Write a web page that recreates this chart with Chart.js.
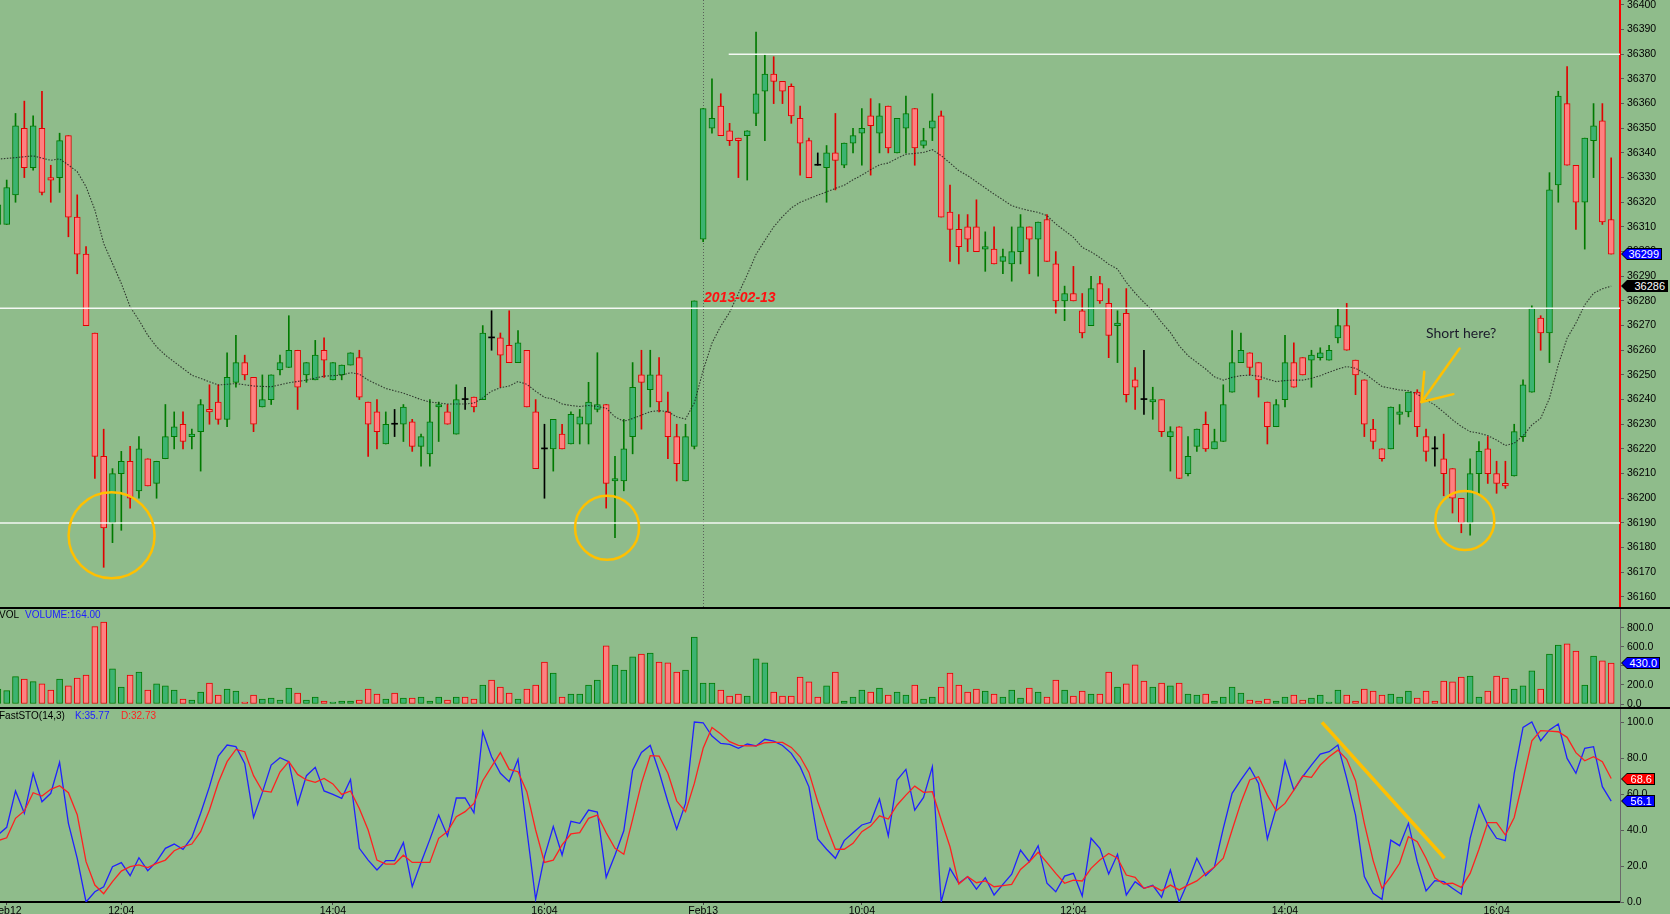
<!DOCTYPE html>
<html>
<head>
<meta charset="utf-8">
<title>Candles + VOL + FastSTO</title>
<script src="https://cdn.jsdelivr.net/npm/chart.js@4.4.1/dist/chart.umd.min.js"></script>
<style>
  html, body { margin: 0; padding: 0; background: #8fbc8b; }
  #wrap { position: relative; width: 1670px; height: 914px; overflow: hidden; background: #8fbc8b;
          font-family: 'Liberation Sans', Arial, sans-serif; }
  .pane { position: absolute; left: 0; }
  .pane canvas { display: block; }
  .sep { position: absolute; left: 0; width: 1670px; height: 2px; background: #000; }
  .hdr { position: absolute; font-size: 10px; line-height: 12px; white-space: nowrap; color: #000; }
  .note { position: absolute; white-space: nowrap; }
  .tag { position: absolute; left: 1621px; height: 12px; background: #000;
         clip-path: polygon(0 50%, 6px 0, 100% 0, 100% 100%, 6px 100%); }
  .tag div { position: absolute; left: 1px; top: 1px; right: 1px; bottom: 1px; color: #fff;
             font-size: 11px; line-height: 10px; text-align: right; padding-right: 2px;
             clip-path: polygon(0 50%, 5px 0, 100% 0, 100% 100%, 5px 100%); }
</style>
</head>
<body>
<div id="wrap">
  <div class="pane" style="top:0"><canvas id="priceCanvas" width="1670" height="608"></canvas></div>
  <div class="pane" style="top:608px"><canvas id="volCanvas" width="1670" height="100"></canvas></div>
  <div class="pane" style="top:708px"><canvas id="stoCanvas" width="1670" height="206"></canvas></div>
  <div class="sep" style="top:607px"></div>
  <div class="sep" style="top:707px"></div>
  <div class="hdr" style="top:609px;left:-1px">VOL</div>
  <div class="hdr" style="top:609px;left:25px;color:#2020ff">VOLUME:164.00</div>
  <div class="hdr" style="top:710px;left:-1px">FastSTO(14,3)</div>
  <div class="hdr" style="top:710px;left:75px;color:#2020ff">K:35.77</div>
  <div class="hdr" style="top:710px;left:121px;color:#ff2020">D:32.73</div>
</div>
<script>
// 5 minute bars, Feb12 -> Feb13 (bar 0 is cut off at the left edge)
const opens = [
  36311,36311,36323,36350,36334,36350,36330,36330,36347,36314,
  36299,36267,36217,36190,36210,36215,36203,36216,36206,36216,
  36225,36230,36225,36227,36236,36239,36232,36247,36255,36249,
  36237,36240,36252,36253,36260,36250,36248,36260,36248,36250,
  36254,36257,36239,36235,36222,36230,36230,36231,36221,36218,
  36237,36235,36226,36240,36241,36240,36265,36265,36262,36255,
  36260,36235,36220,36220,36226,36222,36230,36230,36236,36238,
  36207,36207,36225,36250,36244,36250,36235,36225,36207,36221,
  36305,36350,36359,36349,36346,36347,36356,36365,36372,36369,
  36367,36354,36345,36335,36334,36340,36335,36344,36348,36355,
  36348,36359,36340,36350,36358,36343,36350,36355,36316,36309,
  36310,36310,36301,36301,36296,36295,36300,36310,36305,36313,
  36295,36280,36283,36276,36270,36287,36279,36270,36275,36248,
  36240,36239,36240,36225,36229,36210,36221,36230,36220,36223,
  36243,36255,36259,36255,36239,36229,36240,36255,36257,36256,
  36257,36256,36265,36270,36256,36248,36228,36220,36220,36234,
  36235,36243,36225,36220,36216,36212,36200,36190,36210,36220,
  36210,36206,36209,36225,36243,36273,36267,36327,36360,36335,
  36320,36345,36353,36313
];
const highs = [
  36321,36329,36356,36361,36355,36365,36335,36348,36347,36323,
  36302,36267,36228,36212,36219,36221,36225,36216,36215,36238,
  36235,36235,36228,36240,36246,36246,36259,36266,36258,36249,
  36250,36250,36258,36274,36260,36255,36264,36265,36255,36254,
  36259,36260,36239,36240,36235,36236,36238,36232,36226,36240,
  36239,36238,36246,36245,36241,36270,36276,36267,36276,36268,
  36260,36240,36230,36232,36230,36235,36236,36247,36259,36238,
  36217,36232,36255,36260,36260,36257,36243,36230,36230,36280,
  36358,36370,36364,36352,36346,36349,36389,36380,36379,36369,
  36368,36359,36346,36340,36343,36356,36344,36350,36358,36362,
  36360,36359,36354,36363,36358,36350,36364,36357,36327,36315,
  36315,36321,36308,36310,36301,36310,36315,36310,36312,36315,
  36300,36286,36294,36283,36290,36290,36285,36276,36285,36253,
  36260,36245,36240,36229,36229,36225,36228,36235,36228,36246,
  36268,36267,36259,36255,36239,36240,36266,36263,36257,36260,
  36261,36262,36277,36279,36256,36248,36232,36220,36237,36238,
  36243,36244,36228,36225,36226,36212,36200,36216,36223,36225,
  36215,36215,36230,36248,36278,36274,36332,36365,36375,36335,
  36346,36360,36360,36338
];
const lows = [
  36310,36311,36320,36330,36333,36323,36320,36324,36306,36291,
  36270,36208,36172,36182,36187,36196,36200,36205,36200,36216,
  36220,36220,36220,36211,36230,36230,36229,36245,36248,36227,
  36237,36238,36250,36253,36236,36247,36248,36249,36248,36248,
  36254,36240,36217,36220,36222,36225,36223,36219,36213,36213,
  36223,36230,36226,36236,36235,36240,36260,36245,36255,36255,
  36237,36212,36200,36211,36220,36222,36222,36222,36235,36196,
  36184,36203,36218,36228,36237,36235,36216,36207,36207,36220,
  36304,36348,36347,36343,36330,36329,36351,36345,36360,36360,
  36352,36331,36330,36335,36320,36325,36334,36340,36335,36331,
  36340,36340,36340,36340,36335,36342,36345,36314,36296,36295,
  36300,36300,36292,36295,36291,36288,36295,36291,36290,36296,
  36275,36272,36280,36265,36270,36279,36257,36255,36239,36236,
  36234,36232,36225,36211,36208,36209,36219,36219,36220,36223,
  36243,36255,36250,36241,36222,36229,36237,36245,36250,36245,
  36256,36256,36263,36260,36242,36225,36220,36215,36220,36230,
  36233,36225,36215,36213,36201,36194,36186,36185,36202,36206,
  36202,36204,36209,36223,36243,36260,36255,36320,36335,36309,
  36301,36330,36311,36299
];
const closes = [
  36319,36326,36351,36334,36351,36324,36329,36345,36314,36299,
  36270,36217,36188,36210,36215,36200,36220,36205,36215,36225,
  36229,36223,36226,36238,36235,36232,36249,36255,36250,36230,
  36240,36250,36255,36260,36245,36255,36258,36256,36255,36254,
  36259,36241,36230,36227,36230,36230,36237,36221,36225,36231,
  36238,36230,36240,36240,36237,36267,36265,36258,36255,36263,
  36237,36212,36220,36232,36220,36234,36233,36239,36238,36206,
  36208,36220,36245,36247,36250,36239,36225,36214,36225,36280,
  36358,36354,36347,36345,36345,36349,36364,36372,36369,36365,
  36355,36344,36330,36335,36340,36337,36344,36347,36350,36351,
  36355,36342,36354,36356,36342,36345,36353,36314,36309,36302,
  36305,36300,36302,36295,36298,36300,36310,36305,36312,36296,
  36280,36283,36280,36267,36285,36280,36266,36271,36242,36245,
  36240,36240,36227,36227,36208,36217,36228,36220,36223,36238,
  36255,36260,36253,36248,36229,36238,36255,36245,36250,36258,
  36259,36260,36270,36260,36250,36230,36223,36216,36237,36235,
  36243,36229,36219,36220,36210,36200,36190,36210,36219,36210,
  36206,36205,36227,36246,36277,36267,36325,36363,36335,36320,
  36346,36351,36312,36299
];
const volumes = [
  158,140,288,263,235,211,147,263,190,274,
  305,814,863,369,179,305,337,147,211,190,
  147,53,42,126,221,95,158,137,21,95,
  53,63,42,168,116,42,74,32,21,32,
  32,42,158,105,53,116,63,63,74,32,
  74,42,74,74,53,200,253,179,116,53,
  158,200,442,326,74,105,105,200,253,611,
  410,358,495,526,537,442,432,337,358,705,
  221,221,147,84,105,84,474,432,126,84,
  84,284,232,74,190,337,32,74,147,126,
  168,95,126,95,200,53,74,179,326,200,
  126,158,137,105,74,147,63,168,126,74,
  253,147,84,137,105,105,337,179,211,411,
  242,179,221,190,221,105,95,105,32,74,
  179,116,42,32,53,32,74,95,42,63,
  95,21,147,95,32,158,137,95,105,74,
  137,63,137,32,242,232,284,295,74,137,
  295,274,158,190,348,158,526,621,632,558,
  200,505,453,430
];
const stochK = [
  37.2,41.5,61.7,49.3,71.5,55.7,60.4,77.6,43.7,24.3,
  0,5.7,8.5,19.6,21.9,14.6,24.6,17.4,22.4,29.8,
  32.2,29.3,35.9,49.3,64.1,81.1,87.2,86.3,77.0,47.0,
  60.9,76.1,80.2,78.0,54.3,70.2,74.8,61.7,59.8,57.6,
  68.1,29.8,23.3,17.8,23.0,23.0,33.0,8.5,21.9,34.8,
  48.3,36.7,57.8,57.8,49.6,94.6,80.7,71.5,66.9,79.3,
  40.0,1.5,25.2,41.9,26.1,44.8,43.7,51.1,50.0,13.7,
  26.1,39.6,73.3,83.1,87.0,72.4,55.7,40.4,54.8,100,
  99.6,92.2,88.1,87.6,85.4,87.8,86.7,90.4,89.4,87.0,
  82.6,75.2,64.0,35.0,29.3,24.3,34.1,38.5,42.8,44.3,
  57.2,36.7,67.8,73.7,51.1,58.1,75.2,0,18.7,10.4,
  14.1,7.2,13.5,3.9,9.8,15.4,28.9,22.4,31.3,10.4,
  5.7,14.4,15.9,3.3,35.4,29.8,15.6,26.5,3.9,11.3,
  7.6,9.3,2.6,17.8,0,11.3,24.3,14.6,19.5,40.9,
  60.4,67.8,74.8,65.9,35.0,52.0,78.3,62.2,69.6,76.1,
  82.2,83.5,87.2,68.7,48.3,14.1,4.8,1.5,34.4,31.3,
  43.7,22.4,6.1,11.9,11.3,7.6,4.3,35.4,53.9,42.8,
  35.4,34.1,71.5,97.0,100,89.6,95.6,98.9,79.8,71.5,
  85.4,86.3,64.1,56.1
];
const stochD = [
  34.1,35.7,46.5,50.6,60.7,58.9,62.6,64.6,60.7,48.5,
  22.4,9.4,4.6,11.3,17.2,19.6,20.6,19.1,21.5,23.3,
  28.5,30.7,32.2,39.1,51.1,66.3,78.0,84.8,83.5,70.2,
  61.7,61.1,72.2,78.0,70.9,67.8,66.5,68.7,65.6,59.8,
  61.7,52.0,40.0,23.3,21.1,21.1,26.0,22.0,22.0,22.0,
  35.4,39.1,47.4,50.2,54.8,67.4,75.2,83.0,73.7,72.4,
  61.3,40.0,22.0,23.3,31.7,37.8,38.5,46.5,48.3,38.5,
  29.8,26.5,45.9,65.9,81.3,81.1,71.5,56.1,50.2,65.9,
  85.4,97.0,93.3,89.1,87.0,86.7,86.7,88.5,88.7,88.7,
  85.9,80.7,72.0,55.7,41.9,29.3,29.3,32.6,39.1,42.2,
  47.9,46.1,53.9,59.4,64.4,60.9,61.3,45.6,30.7,10.0,
  14.1,10.7,11.7,8.5,9.1,9.8,18.1,22.4,27.6,21.9,
  15.9,10.4,12.2,11.7,18.7,23.3,27.0,24.3,15.0,13.7,
  7.6,8.9,6.3,9.4,6.7,9.4,11.7,15.9,19.5,24.3,
  40.0,55.2,67.8,69.6,59.4,50.7,54.8,62.2,70.0,69.3,
  76.1,80.7,84.4,79.3,67.4,43.7,23.0,7.6,14.1,21.5,
  36.3,33.5,24.3,13.5,10.0,10.4,8.1,15.9,29.3,44.1,
  44.1,37.2,47.0,67.8,89.6,95.2,95.0,94.6,91.5,83.0,
  78.5,80.7,78.0,68.6
];
// moving average (bar index -> value)
const maBars = [
  0,2,4,6,7,8,9,10,11,12,13,14,15,16,17,18,19,20,21,22,23,24,25,27,29,31,33,35,37,39,
  40,41,42,44,46,48,49,51,53,54,55,56,57,58,59,60,61,62,63,64,65,66,67,68,69,
  70,71,72,73,74,75,76,77,78,79,80,81,82,83,84,85,86,87,88,89,90,91,92,93,94,95,96,97,98,99,
  100,101,102,103,104,105,106,107,108,109,110,111,112,113,114,115,116,117,118,119,
  120,121,122,123,124,125,126,127,128,129,130,131,132,133,134,135,136,137,138,139,
  140,141,142,143,144,145,146,147,148,149,150,151,152,153,154,155,156,157,158,159,
  160,161,162,163,164,165,166,167,168,169,170,171,172,173,174,175,176,177,178,179,
  180,181,182,183
];
const maValues = [
  36337.5,36338.1,36338.8,36337.0,36337.6,36335.1,36332.4,36326.3,36316.9,36303.3,
  36295.2,36287.1,36277.6,36272.2,36266.1,36261.4,36258.0,36255.3,36252.6,36249.9,
  36248.6,36247.2,36245.9,36246.5,36245.5,36245.2,36246.8,36247.9,36249.5,36249.9,
  36250.9,36250.3,36247.9,36244.5,36242.6,36240.0,36239.0,36238.2,36238.2,36238.6,
  36240.7,36243.4,36244.8,36245.5,36247.3,36246.2,36243.4,36240.9,36240.2,36238.2,
  36237.6,36237.2,36237.6,36237.2,36236.5,
  36233.0,36231.2,36232.3,36233.7,36235.1,36235.5,36235.1,36233.0,36232.1,36238.6,
  36251.8,36262.9,36269.8,36275.4,36283.0,36290.6,36298.9,36304.5,36310.0,36314.2,
  36317.7,36320.0,36321.4,36322.9,36324.2,36325.6,36326.9,36329.1,36331.0,36333.2,
  36335.2,36335.9,36337.8,36339.5,36339.8,36340.2,36341.3,36338.9,36335.9,36332.8,
  36330.8,36328.3,36325.8,36323.3,36321.0,36318.6,36317.5,36316.6,36315.9,36314.6,
  36311.2,36308.5,36305.8,36301.7,36299.9,36297.6,36294.9,36292.9,36287.5,36283.2,
  36279.4,36276.0,36271.3,36267.2,36261.8,36257.8,36255.1,36252.4,36249.2,36247.9,
  36249.0,36249.7,36249.9,36249.5,36248.3,36247.3,36247.7,36247.9,36247.9,36248.6,
  36249.7,36251.1,36252.4,36253.4,36252.7,36250.7,36248.0,36245.3,36244.6,36243.9,
  36243.6,36242.2,36239.9,36237.8,36234.9,36231.8,36229.1,36227.0,36226.4,36225.4,
  36223.6,36221.4,36222.3,36225.3,36229.7,36232.4,36240.5,36254.1,36264.9,36271.0,
  36278.4,36283.1,36284.9,36286.0
];

const priceTicks = [36160,36170,36180,36190,36200,36210,36220,36230,36240,36250,36260,36270,
  36280,36290,36300,36310,36320,36330,36340,36350,36360,36370,36380,36390,36400];
const volTicks = [0, 200, 400, 600, 800];
const stoTicks = [0, 20, 40, 60, 80, 100];
const timeTickBars = [1, 14, 38, 62, 80, 98, 122, 146, 170];
const timeTickLabels = ['Feb12', '12:04', '14:04', '16:04', 'Feb13', '10:04', '12:04', '14:04', '16:04'];

// hand drawn bits on the original, in bar / value coordinates
const notes = {
  dayBreak: 80,
  levels: [[36380, 82.9], [36277, null], [36190, null]],
  circles: [[12.9, 36185, 43], [69.1, 36188, 32], [166.4, 36191, 29.5]],
  arrow: { tip: [161.5, 36239], tail: [165.8, 36260.7], wings: [[161.8, 36251.3], [165.1, 36242.2]] },
  shortText: { bar: 162.0, price: 36267.5, text: 'Short here?' },
  dateText: { bar: 80.1, price: 36281.5, text: '2013-02-13' },
  stoLine: [[150.2, 99.8], [164.1, 24.3]]
};

const X_MIN = 0.24, X_MAX = 184.0;
const UP_FILL = '#3cb371', UP_LINE = '#007a00';
const DN_FILL = '#ff8080', DN_LINE = '#e00000';
const DOJI = '#000000';

const bars = opens.map((_, i) => i);
const last = bars.length - 1;

function dir(i) { return closes[i] > opens[i] ? 1 : (closes[i] < opens[i] ? -1 : 0); }
function lineCol(i) { const d = dir(i); return d > 0 ? UP_LINE : (d < 0 ? DN_LINE : DOJI); }
function fillCol(i) { const d = dir(i); return d > 0 ? UP_FILL : (d < 0 ? DN_FILL : DOJI); }

Chart.defaults.font.family = "'Liberation Sans', Arial, sans-serif";
Chart.defaults.font.size = 10.5;
Chart.defaults.color = '#000';

function rightAxis(min, max, ticks, fmt, borderColor, borderWidth) {
  return {
    position: 'right', min: min, max: max,
    afterFit(a) { a.width = 50; a.paddingTop = 0; a.paddingBottom = 0; },
    afterBuildTicks(a) { a.ticks = ticks.map(v => ({ value: v })); },
    ticks: { autoSkip: false, padding: 3, color: '#000', callback: v => fmt(v) },
    grid: { drawOnChartArea: false, drawTicks: true, tickLength: 4, color: '#5a5a5a' },
    border: { display: true, color: borderColor, width: borderWidth }
  };
}
// bar charts turn on offset for the index axis, keep it off so all panes line up
const hiddenX = { type: 'linear', min: X_MIN, max: X_MAX, offset: false, display: false,
                  grid: { offset: false } };
const baseOpts = {
  responsive: false, animation: false, events: [],
  layout: { padding: 0 },
  plugins: { legend: { display: false }, tooltip: { enabled: false } }
};

// price pane
const priceDecor = {
  id: 'priceDecor',
  beforeDatasetsDraw(chart) {
    const { ctx, chartArea: area, scales: { x } } = chart;
    const px = Math.round(x.getPixelForValue(notes.dayBreak)) + 0.5;
    ctx.save();
    ctx.strokeStyle = 'rgba(80,80,80,0.85)';
    ctx.lineWidth = 1;
    ctx.setLineDash([1, 2]);
    ctx.beginPath(); ctx.moveTo(px, area.top); ctx.lineTo(px, area.bottom); ctx.stroke();
    ctx.restore();
  },
  afterDatasetsDraw(chart) {
    const { ctx, chartArea: area, scales: { x, y } } = chart;
    const pt = q => [x.getPixelForValue(q[0]), y.getPixelForValue(q[1])];
    ctx.save();
    ctx.beginPath(); ctx.rect(area.left, area.top, area.right - area.left, area.bottom - area.top); ctx.clip();
    ctx.strokeStyle = 'rgba(255,255,255,0.9)';
    ctx.lineWidth = 1.5;
    notes.levels.forEach(([p, from]) => {
      const py = y.getPixelForValue(p);
      const x0 = from == null ? area.left : x.getPixelForValue(from);
      ctx.beginPath(); ctx.moveTo(x0, py); ctx.lineTo(area.right, py); ctx.stroke();
    });
    ctx.strokeStyle = '#ffc000';
    ctx.lineWidth = 2.5;
    notes.circles.forEach(([b, p, r]) => {
      ctx.beginPath(); ctx.arc(x.getPixelForValue(b), y.getPixelForValue(p), r, 0, Math.PI * 2); ctx.stroke();
    });
    const tip = pt(notes.arrow.tip);
    ctx.lineCap = 'round';
    [notes.arrow.tail].concat(notes.arrow.wings).forEach(q => {
      const e = pt(q);
      ctx.beginPath(); ctx.moveTo(tip[0], tip[1]); ctx.lineTo(e[0], e[1]); ctx.stroke();
    });
    ctx.restore();
  }
};

const priceChart = new Chart(document.getElementById('priceCanvas'), {
  type: 'bar',
  data: {
    datasets: [
      {
        label: 'wick', order: 2, grouped: false,
        data: bars.map(i => ({ x: i, y: [lows[i], highs[i]] })),
        barThickness: 1, maxBarThickness: 1, minBarLength: 1, borderWidth: 0,
        backgroundColor: c => lineCol(c.dataIndex)
      },
      {
        label: 'body', order: 1, grouped: false,
        data: bars.map(i => ({ x: i, y: [opens[i], closes[i]] })),
        barThickness: 6, maxBarThickness: 6, minBarLength: 1, borderSkipped: false,
        borderWidth: c => dir(c.dataIndex) === 0 ? 0 : 1,
        backgroundColor: c => fillCol(c.dataIndex),
        borderColor: c => lineCol(c.dataIndex)
      },
      {
        type: 'line', label: 'MA', order: 0,
        data: maBars.map((b, i) => ({ x: b, y: maValues[i] })),
        borderColor: 'rgba(25,25,25,0.8)', borderWidth: 1.1, borderDash: [1.5, 1.5],
        pointRadius: 0, tension: 0
      }
    ]
  },
  options: Object.assign({}, baseOpts, {
    scales: {
      x: hiddenX,
      y: rightAxis(36155.5, 36402, priceTicks, v => String(v), '#ff0000', 2)
    }
  }),
  plugins: [priceDecor]
});

// volume pane
const volChart = new Chart(document.getElementById('volCanvas'), {
  type: 'bar',
  data: {
    datasets: [{
      label: 'VOLUME', grouped: false,
      data: bars.map(i => ({ x: i, y: volumes[i] })),
      barThickness: 6, maxBarThickness: 6, borderWidth: 1, borderSkipped: false,
      backgroundColor: c => dir(c.dataIndex) > 0 ? UP_FILL : DN_FILL,
      borderColor: c => dir(c.dataIndex) > 0 ? UP_LINE : DN_LINE
    }]
  },
  options: Object.assign({}, baseOpts, {
    scales: {
      x: hiddenX,
      y: rightAxis(-42, 1010, volTicks, v => v.toFixed(1), '#6b6b6b', 1)
    }
  })
});

// stochastic pane
const stoDecor = {
  id: 'stoDecor',
  afterDatasetsDraw(chart) {
    const { ctx, scales: { x, y } } = chart;
    const [a, b] = notes.stoLine;
    ctx.save();
    ctx.strokeStyle = '#ffc000';
    ctx.lineWidth = 3.5;
    ctx.beginPath();
    ctx.moveTo(x.getPixelForValue(a[0]), y.getPixelForValue(a[1]));
    ctx.lineTo(x.getPixelForValue(b[0]), y.getPixelForValue(b[1]));
    ctx.stroke();
    ctx.restore();
  }
};

const stoChart = new Chart(document.getElementById('stoCanvas'), {
  type: 'line',
  data: {
    datasets: [
      { label: 'D', data: bars.map(i => ({ x: i, y: stochD[i] })), borderColor: '#ff2020',
        borderWidth: 1.3, pointRadius: 0, tension: 0 },
      { label: 'K', data: bars.map(i => ({ x: i, y: stochK[i] })), borderColor: '#2020ff',
        borderWidth: 1.3, pointRadius: 0, tension: 0 }
    ]
  },
  options: Object.assign({}, baseOpts, {
    scales: {
      x: {
        type: 'linear', min: X_MIN, max: X_MAX, offset: false,
        afterFit(a) { a.height = 12; a.paddingLeft = 0; a.paddingRight = 0; },
        afterBuildTicks(a) { a.ticks = timeTickBars.map(v => ({ value: v })); },
        ticks: { autoSkip: false, maxRotation: 0, minRotation: 0, padding: 0, color: '#000',
                 callback: (v, i) => timeTickLabels[i] },
        grid: { drawOnChartArea: false, drawTicks: true, tickLength: 3, color: '#444' },
        border: { display: true, color: '#000', width: 2 }
      },
      y: rightAxis(0, 107.8, stoTicks, v => v.toFixed(1), '#6b6b6b', 1)
    }
  }),
  plugins: [stoDecor]
});

// text overlays and value tags
const wrap = document.getElementById('wrap');
function addNote(n, css, paneTop, chart) {
  const d = document.createElement('div');
  d.className = 'note';
  d.textContent = n.text;
  d.style.cssText += css;
  d.style.left = chart.scales.x.getPixelForValue(n.bar) + 'px';
  d.style.top = (paneTop + chart.scales.y.getPixelForValue(n.price)) + 'px';
  d.style.transform = 'translateY(-50%)';
  wrap.appendChild(d);
}
addNote(notes.dateText, "font:italic bold 14px 'Liberation Sans',Arial,sans-serif;color:#ff1010;", 0, priceChart);
addNote(notes.shortText, "font:14px Lato,'Open Sans',sans-serif;color:#1b1b2b;", 0, priceChart);

function addTag(y, text, bg, w) {
  const t = document.createElement('div');
  t.className = 'tag';
  t.style.top = Math.round(y - 6) + 'px';
  t.style.width = w + 'px';
  const inner = document.createElement('div');
  inner.style.background = bg;
  inner.textContent = text;
  t.appendChild(inner);
  wrap.appendChild(t);
}
addTag(priceChart.scales.y.getPixelForValue(closes[last]), String(closes[last]), '#0000ff', 41);
addTag(priceChart.scales.y.getPixelForValue(maValues[maValues.length - 1]),
       String(Math.round(maValues[maValues.length - 1])), '#000000', 47);
addTag(608 + volChart.scales.y.getPixelForValue(volumes[last]), volumes[last].toFixed(1), '#0000ff', 39);
addTag(708 + stoChart.scales.y.getPixelForValue(stochD[last]), stochD[last].toFixed(1), '#ff0000', 34);
addTag(708 + stoChart.scales.y.getPixelForValue(stochK[last]), stochK[last].toFixed(1), '#0000ff', 34);
</script>
</body>
</html>
